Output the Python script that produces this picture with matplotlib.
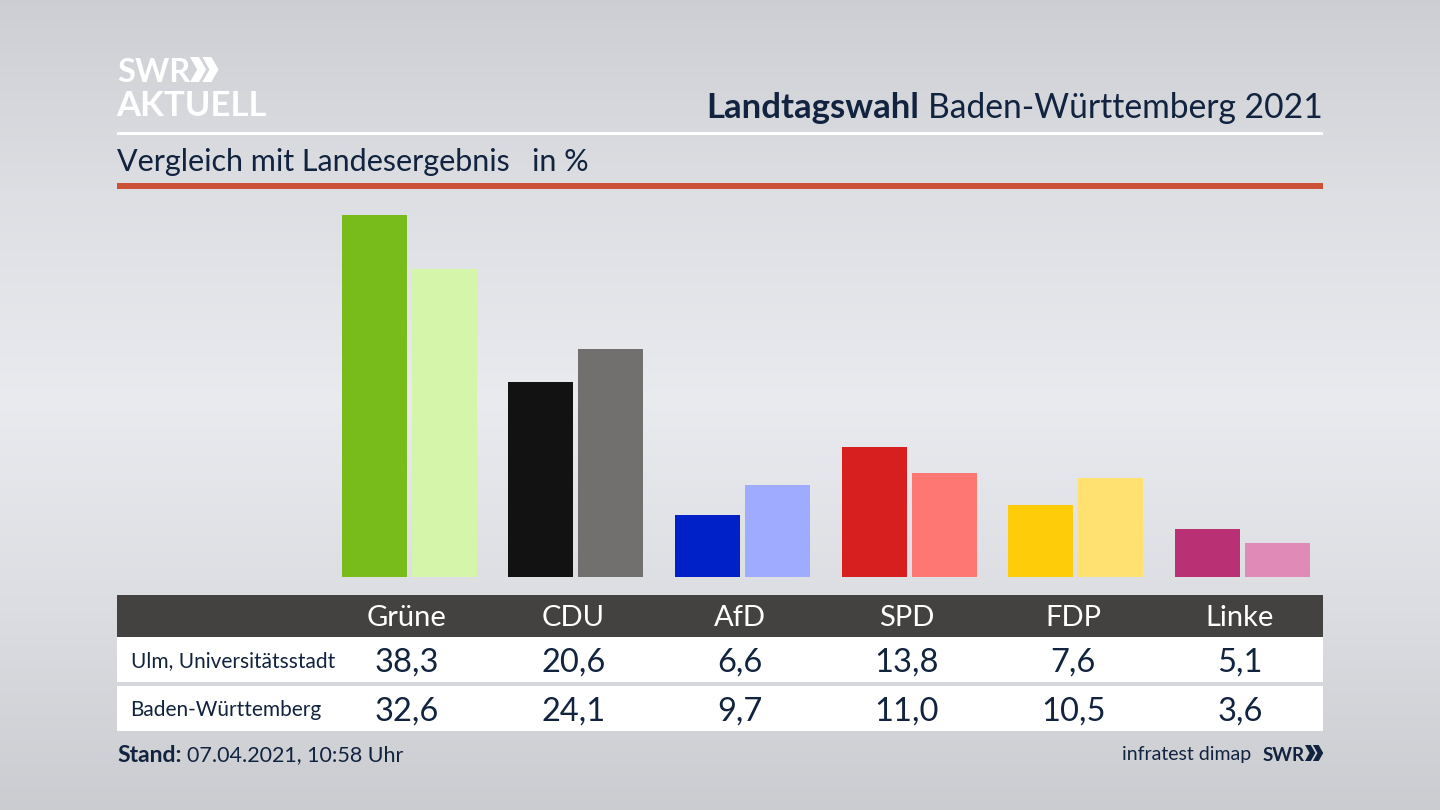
import matplotlib
matplotlib.use("Agg")
import matplotlib.pyplot as plt
import numpy as np
from matplotlib.patches import Polygon, Rectangle

plt.rcParams['font.family'] = ['Lato', 'DejaVu Sans']

parties = ["Grüne", "CDU", "AfD", "SPD", "FDP", "Linke"]
ulm = [38.3, 20.6, 6.6, 13.8, 7.6, 5.1]
bw = [32.6, 24.1, 9.7, 11.0, 10.5, 3.6]
ulm_colors = ["#78bc1b", "#121212", "#0020c8", "#d81f1f", "#ffcc0a", "#b93075"]
bw_colors = ["#d5f5ab", "#72706e", "#9eabff", "#ff7772", "#ffe171", "#df8ab7"]
row_names = ["Ulm, Universitätsstadt", "Baden-Württemberg"]

NAVY = "#12233f"

fig = plt.figure(figsize=(14.4, 8.1), dpi=100)

# backdrop and everything that is laid out in pixels
bg = fig.add_axes([0, 0, 1, 1])
bg.set_xlim(0, 1440)
bg.set_ylim(810, 0)
bg.axis("off")
stops_y = [0, 200, 400, 600, 810]
stops_v = [0.805, 0.87, 0.915, 0.865, 0.795]
shade = np.interp(np.arange(810), stops_y, stops_v)
rgb = np.stack([shade, shade + 0.005, shade + 0.022], axis=1)[:, None, :]
bg.imshow(np.clip(rgb, 0, 1), extent=[0, 1440, 810, 0], aspect="auto", zorder=0)


def box(x0, y0, x1, y1, color):
    bg.add_patch(Rectangle((x0, y0), x1 - x0, y1 - y0, fc=color, ec="none", zorder=1))


def chevrons(x, y, h, color):
    w = h * 0.52
    t = h * 0.36
    for dx in (0, w * 0.95):
        pts = [(x + dx, y), (x + dx + t, y), (x + dx + w + t * 0.35, y + h / 2),
               (x + dx + t, y + h), (x + dx, y + h), (x + dx + w - t * 0.65, y + h / 2)]
        bg.add_patch(Polygon(pts, fc=color, ec="none", zorder=3))


box(117, 132, 1323, 135, "white")
box(117, 183, 1323, 189, "#cb5237")
box(117, 595, 1323, 637, "#434241")
box(117, 637, 1323, 682, "white")
box(117, 686, 1323, 731, "white")

# logo
bg.text(117, 81.5, "SWR", color="white", fontsize=23.5, fontweight="bold", va="baseline", ha="left")
chevrons(190, 57, 25, "white")
bg.text(116, 116, "AKTUELL", color="white", fontsize=25, fontweight="bold", va="baseline", ha="left")

# header
title = bg.text(1323, 118, "Baden-Württemberg 2021", color=NAVY, fontsize=24.2, ha="right", va="baseline")
fig.canvas.draw()
left = title.get_window_extent().x0
bg.text(left - 9, 118, "Landtagswahl", color=NAVY, fontsize=25, fontweight="bold", ha="right", va="baseline")
bg.text(117, 171, "Vergleich mit Landesergebnis", color=NAVY, fontsize=22, va="baseline")
bg.text(532, 171, "in %", color=NAVY, fontsize=22, va="baseline")

# bars: 0 sits at pixel 577, one percent point is about 9.45 px
BASE_Y = 577
PX_PER_PCT = 9.45
GROUP_STEP = 166.7
FIRST_GROUP = 409
LABEL_SHIFT = 2.5
ax_top = 200
ax = fig.add_axes([117 / 1440, 1 - BASE_Y / 810, (1323 - 117) / 1440, (BASE_Y - ax_top) / 810])
ax.patch.set_alpha(0)
ax.axis("off")
ax.set_xlim((117 - FIRST_GROUP) / GROUP_STEP, (1323 - FIRST_GROUP) / GROUP_STEP)
ax.set_ylim(0, (BASE_Y - ax_top) / PX_PER_PCT)
pos = np.arange(len(parties))
ax.bar(pos - 35 / GROUP_STEP, ulm, width=65 / GROUP_STEP, color=ulm_colors)
ax.bar(pos + 35 / GROUP_STEP, bw, width=65 / GROUP_STEP, color=bw_colors)

# table
for i, name in enumerate(parties):
    cx = FIRST_GROUP - LABEL_SHIFT + GROUP_STEP * i
    bg.text(cx, 626, name, color="white", fontsize=21, ha="center", va="baseline", zorder=4)
    bg.text(cx, 672, f"{ulm[i]:.1f}".replace(".", ","), color=NAVY, fontsize=23.5, ha="center", va="baseline", zorder=4)
    bg.text(cx, 721, f"{bw[i]:.1f}".replace(".", ","), color=NAVY, fontsize=23.5, ha="center", va="baseline", zorder=4)
bg.text(131, 667, row_names[0], color=NAVY, fontsize=15, va="baseline", zorder=4)
bg.text(130, 716, row_names[1], color=NAVY, fontsize=15, va="baseline", zorder=4)

# footer
bg.text(117, 762, "Stand:", color=NAVY, fontsize=16.5, fontweight="bold", va="baseline")
bg.text(187, 761, "07.04.2021, 10:58 Uhr", color=NAVY, fontsize=15.5, va="baseline")
bg.text(1251, 760, "infratest dimap", color=NAVY, fontsize=14, ha="right", va="baseline")
bg.text(1263, 761, "SWR", color=NAVY, fontsize=13.5, fontweight="bold", va="baseline")
chevrons(1305, 745, 16, NAVY)

fig.savefig("out.png", dpi=100)
